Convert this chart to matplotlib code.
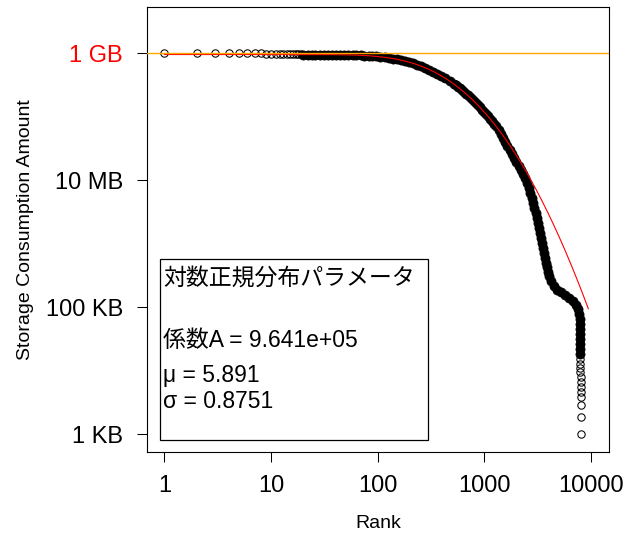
import math
import numpy as np
import matplotlib
matplotlib.use("Agg")
import matplotlib.pyplot as plt
from matplotlib.patches import Rectangle

# ---------------- data (storage in KB, rank order) ----------------
# individual circles at the top-left (ranks 1-19)
top_ranks = [1, 2, 3, 4, 5, 6, 7, 8, 9, 10, 11, 12, 13, 14, 15, 16, 17, 18, 19]
top_kb = [1.0e6, 1.0e6, 1.0e6, 1.0e6, 1.0e6, 1.0e6, 1.0e6, 1.0e6, 9.9e5, 9.9e5,
          9.9e5, 9.9e5, 9.9e5, 9.8e5, 9.8e5, 9.8e5, 9.7e5, 9.7e5, 9.7e5]

# dense band where circles overlap (upper part, along the fit)
band_ranks = [20, 22, 24, 26, 29, 31, 34, 37, 41, 44,
              48, 53, 58, 63, 69, 75, 82, 89, 97, 106,
              116, 127, 138, 151, 165, 180, 196, 214, 234, 255,
              278, 304, 331, 362, 395, 431, 470, 513,
              536, 560, 585, 612, 639, 668, 697, 729, 761, 795,
              831, 868, 907, 947, 990, 1034, 1080, 1129, 1179, 1232,
              1287]
band_kb = [9.64e5, 9.63e5, 9.63e5, 9.63e5, 9.62e5, 9.62e5, 9.61e5, 9.60e5, 9.58e5, 9.56e5,
           9.54e5, 9.51e5, 9.47e5, 9.42e5, 9.36e5, 9.29e5, 9.21e5, 9.11e5, 9.00e5, 8.86e5,
           8.71e5, 8.53e5, 8.33e5, 8.11e5, 7.87e5, 7.60e5, 7.31e5, 7.00e5, 6.67e5, 6.32e5,
           5.96e5, 5.58e5, 5.20e5, 4.82e5, 4.44e5, 4.06e5, 3.68e5, 3.32e5,
           3.15e5, 2.97e5, 2.81e5, 2.64e5, 2.49e5, 2.33e5, 2.18e5, 2.04e5, 1.91e5, 1.77e5,
           1.65e5, 1.53e5, 1.42e5, 1.31e5, 1.21e5, 1.11e5, 1.02e5, 9.33e4, 8.53e4, 7.79e4,
           7.09e4]

# dense band, steep drop and shoulder
steep_ranks = [1353, 1419, 1488, 1560, 1636, 1716, 1799, 1891, 1986, 2087,
               2189, 2286, 2391, 2529, 2613, 2698, 2769, 2848, 2941, 3038,
               3118, 3193, 3263, 3327, 3400, 3459, 3519, 3588, 3666, 3738,
               3812, 3911, 4022, 4199, 4433, 4780, 5212, 5742, 6260, 6751,
               7203, 7521, 7735, 7819, 7830, 7840, 7850, 7860, 7870, 7880,
               7890]
steep_kb = [62300, 53900, 46650, 40330, 34880, 30170, 26100, 22570, 19520, 16880,
            14600, 12630, 10920, 9114, 7601, 6340, 5288, 4412, 3680, 3069,
            2560, 2135, 1781, 1486, 1239, 1033, 862, 719, 600, 500,
            425, 361, 307, 260, 221, 191, 172, 157, 143, 128,
            111, 94.3, 78.7, 65.6, 54.7, 45.6, 38.1, 31.8, 26.5, 22.1,
            18.4]

# last ranks, separate circles at the bottom
tail_ranks = [7900, 7910, 7920, 7930, 7940, 7950, 7960, 7970, 7980, 7990, 8000, 8010]
tail_kb = [15.4, 12.8, 11.1, 9.6, 8.0, 6.7, 5.6, 4.6, 3.9, 2.9, 1.9, 1.0]

# lognormal fit parameters (shown in the box)
fit_A = 9.641e5
fit_mu = 5.891
fit_sigma = 0.8751
fit_rank_min, fit_rank_max = 1, 9400

gb_line_kb = 1e6

x_ticks = [1, 10, 100, 1000, 10000]
x_tick_labels = ["1", "10", "100", "1000", "10000"]
y_ticks = [1, 1e2, 1e4, 1e6]
y_tick_labels = ["1 KB", "100 KB", "10 MB", "1 GB"]
y_tick_colors = ["black", "black", "black", "red"]

legend_title = "対数正規分布パラメータ"
legend_lines = ["係数A = 9.641e+05", "μ = 5.891", "σ = 0.8751"]

# ---------------- figure ----------------
plt.rcParams['font.family'] = ['Liberation Sans', 'Noto Sans CJK JP', 'DejaVu Sans']

W, H = 635, 536
fig = plt.figure(figsize=(W / 100, H / 100), dpi=100)
ax = fig.add_axes([147 / W, (H - 452) / H, 462 / W, 445 / H])

hollow = dict(linestyle='none', marker='o', markersize=5.3, markerfacecolor='none',
              markeredgecolor='black', markeredgewidth=0.75, zorder=2)
dense = dict(linestyle='none', marker='o', markersize=6.6, markerfacecolor='black',
             markeredgecolor='black', markeredgewidth=0.5, zorder=2)

ax.plot(top_ranks, top_kb, **hollow)
ax.plot(band_ranks, band_kb, **dense)
ax.plot(steep_ranks, steep_kb, **dense)
ax.plot(tail_ranks, tail_kb, **hollow)

# fitted curve: A * (1 - Phi((ln r - mu)/sigma))
fit_r = np.geomspace(fit_rank_min, fit_rank_max, 500)
fit_y = [fit_A * 0.5 * math.erfc((math.log(r) - fit_mu) / (fit_sigma * math.sqrt(2))) for r in fit_r]
ax.plot(fit_r, fit_y, color='red', linewidth=0.8, zorder=3)

ax.axhline(gb_line_kb, color='#FFA500', linewidth=1.0, zorder=4)

ax.set_xscale('log')
ax.set_yscale('log')
ax.set_xlim(10 ** (-0.163), 10 ** 4.1668)
ax.set_ylim(10 ** (-0.2786), 10 ** 6.7326)

ax.set_xticks(x_ticks)
ax.set_xticklabels(x_tick_labels)
ax.set_yticks(y_ticks)
ax.set_yticklabels(y_tick_labels)
ax.minorticks_off()
for lab, c in zip(ax.get_yticklabels(), y_tick_colors):
    lab.set_color(c)

ax.tick_params(axis='both', which='major', direction='out', length=7.2, width=0.75,
               labelsize=17, color='black')
ax.tick_params(axis='x', pad=9.5)
ax.tick_params(axis='y', pad=10)

for s in ax.spines.values():
    s.set_linewidth(0.8)
    s.set_color('black')

ax.set_xlabel("Rank", fontsize=14)
ax.set_ylabel("Storage Consumption Amount", fontsize=14)
ax.xaxis.set_label_coords(0.5, -0.142)
ax.yaxis.set_label_coords(-0.2446, 0.5)

# parameter box
def ax_x(px):
    return (px - 147) / 462

def ax_y(py):
    return (452 - py) / 445

box = Rectangle((ax_x(160), ax_y(440)), ax_x(428) - ax_x(160), ax_y(259) - ax_y(440),
                transform=ax.transAxes, facecolor='white', edgecolor='black',
                linewidth=0.9, zorder=5)
ax.add_patch(box)

txt_kw = dict(transform=ax.transAxes, fontsize=16.5, ha='left', va='baseline',
              family=['Liberation Sans', 'Noto Sans CJK JP'], zorder=6)
ax.text(ax_x(163), ax_y(285), legend_title, **txt_kw)
ax.text(ax_x(163), ax_y(347), legend_lines[0], **txt_kw)
ax.text(ax_x(163), ax_y(382), legend_lines[1], **txt_kw)
ax.text(ax_x(163), ax_y(408.5), legend_lines[2], **txt_kw)

fig.savefig("out.png", dpi=100)
